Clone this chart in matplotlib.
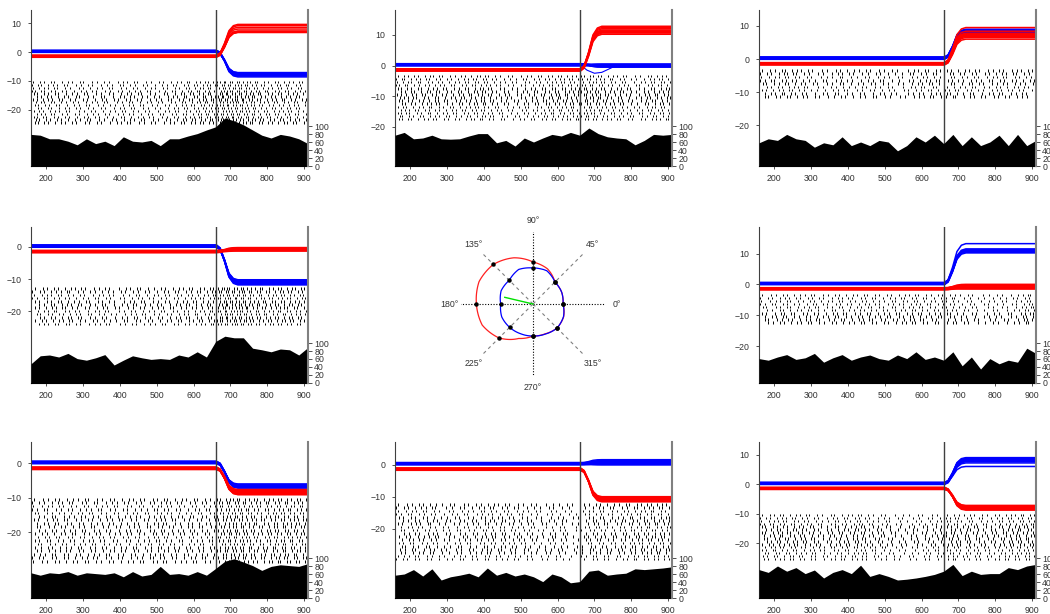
import numpy as np
import matplotlib
matplotlib.use("Agg")
import matplotlib.pyplot as plt

plt.rcParams['font.family'] = ['Liberation Sans', 'DejaVu Sans']
plt.rcParams['font.size'] = 6.3

# time bins of the PSTH (ms) and stimulus onset
psth_t = [160, 185, 210, 235, 260, 285, 310, 335, 360, 385, 410, 435, 460, 485, 510, 535,
          560, 585, 610, 635, 660, 685, 710, 735, 760, 785, 810, 835, 860, 885, 910]
onset = 660

# firing rate (spikes/s)
rate_p1 = [79, 77, 68, 68, 62, 53, 68, 56, 62, 51, 73, 62, 60, 64, 51, 68,
           68, 75, 81, 90, 98, 120, 113, 103, 90, 77, 70, 79, 75, 68, 56]
rate_p2 = [77, 84, 68, 70, 77, 68, 67, 68, 75, 81, 81, 58, 64, 50, 70, 60,
           70, 79, 75, 84, 77, 95, 81, 73, 70, 68, 53, 64, 79, 77, 79]
rate_p3 = [58, 68, 64, 79, 68, 64, 47, 58, 53, 73, 51, 60, 51, 64, 60, 38,
           51, 73, 60, 77, 56, 79, 51, 73, 51, 60, 77, 51, 79, 51, 64]
rate_p4 = [48, 68, 70, 65, 74, 61, 57, 63, 71, 45, 57, 68, 63, 59, 61, 59,
           70, 65, 78, 65, 104, 117, 113, 113, 87, 83, 78, 85, 83, 70, 89]
rate_p6 = [61, 57, 65, 71, 59, 63, 74, 52, 63, 71, 57, 65, 70, 61, 57, 70,
           61, 78, 59, 65, 57, 78, 43, 65, 35, 61, 48, 57, 52, 87, 74]
rate_p7 = [63, 57, 63, 61, 66, 57, 63, 61, 59, 63, 53, 66, 55, 59, 79, 59,
           61, 57, 66, 57, 74, 92, 98, 90, 81, 69, 79, 83, 81, 79, 86]
rate_p8 = [57, 60, 71, 55, 73, 45, 53, 57, 62, 53, 75, 57, 64, 55, 60, 53,
           41, 60, 53, 38, 41, 67, 70, 57, 60, 62, 73, 71, 73, 75, 78]
rate_p9 = [71, 64, 80, 67, 76, 61, 70, 50, 64, 71, 61, 82, 54, 61, 54, 45,
           47, 50, 54, 59, 67, 84, 56, 67, 59, 61, 61, 76, 71, 80, 84]

# relative inter-spike intervals used to lay out raster ticks
isi_pattern = [0.55, 1.45, 0.8, 1.25, 0.65, 1.35, 1.05, 0.75, 1.15]

# eye position: baseline spread and final level of each trial (deg)
jitter = [-0.5, -0.35, -0.2, -0.05, 0.1, 0.25, 0.4, -0.25, 0.15, 0.3]
blue_end_p1 = [-7.2, -7.5, -7.8, -8.0, -7.4, -8.6, -7.6, -7.1, -7.9, -8.3]
red_end_p1 = [6.8, 7.0, 7.2, 6.9, 7.3, 8.0, 8.6, 9.2, 9.6, 7.1]
blue_end_p2 = [0.5, 0.2, -0.3, 0.0, 0.4, -0.5, 0.1, -0.2, 0.3, -0.4]
red_end_p2 = [10.2, 10.6, 11.0, 11.3, 11.6, 12.0, 10.8, 12.4, 12.8, 11.2]
blue_end_p3 = [7.8, 8.2, 8.5, 9.0, 7.6, 8.0, 8.8, 8.3, 7.9, 8.6]
red_end_p3 = [6.0, 6.5, 7.0, 7.4, 7.8, 8.4, 9.5, 7.2, 6.8, 7.6]
blue_end_p4 = [-10.2, -10.6, -11.0, -11.4, -11.8, -10.8, -11.2, -10.4, -11.6, -11.0]
red_end_p4 = [-0.3, -0.6, -0.9, -1.1, -0.5, -0.2, -0.8, -1.3, -0.4, -0.7]
blue_end_p6 = [10.2, 10.5, 10.8, 11.2, 11.5, 10.4, 10.9, 11.0, 13.2, 10.6]
red_end_p6 = [-1.2, -1.0, -1.4, -0.9, -1.3, 0.0, -0.3, -1.1, -1.5, -0.6]
blue_end_p7 = [-6.0, -6.3, -6.6, -6.9, -7.2, -6.4, -6.8, -6.1, -7.0, -6.5]
red_end_p7 = [-7.6, -8.0, -8.4, -8.8, -9.1, -7.8, -8.2, -8.6, -9.0, -7.9]
blue_end_p8 = [0.0, 0.3, 0.6, 0.9, 1.2, 1.5, 0.4, 0.8, -0.1, 1.0]
red_end_p8 = [-10.0, -10.3, -10.6, -11.0, -11.4, -10.8, -11.2, -10.5, -11.6, -10.2]
blue_end_p9 = [7.2, 7.6, 8.0, 8.4, 8.8, 9.0, 6.0, 7.8, 8.2, 8.6]
red_end_p9 = [-7.2, -7.6, -8.0, -8.4, -8.8, -7.4, -7.9, -8.2, -8.6, -7.8]

# saccade profile (fraction of the way to the final level)
shape_t = [160, 662, 672, 684, 696, 708, 720, 910]
shape_f = [0, 0, 0.08, 0.4, 0.8, 0.96, 1.0, 1.0]

# one blue trial in panel 2 that dips and comes back
dip_t = [160, 662, 680, 700, 720, 750, 910]
dip_y = [0.2, 0.2, -1.5, -2.5, -2.2, -0.5, 0.0]

# direction tuning (polar panel)
dirs = [0, 22.5, 45, 67.5, 90, 112.5, 135, 157.5, 180, 202.5, 225, 247.5, 270, 292.5, 315, 337.5]
red_resp = [30, 31, 31, 38, 42, 50, 56, 58.4, 56.6, 55, 48, 37.3, 32, 32.2, 34, 33.2]
blue_resp = [30, 31, 31, 36, 36, 37.4, 33.5, 34.5, 32.3, 33.8, 33, 32.2, 32, 32.5, 34, 33]
pref_dir = 166.7
pref_len = 29
dir_labels = ['0°', '45°', '90°', '135°', '180°', '225°', '270°', '315°']

# panel: (rate, blue_end, red_end, ylim, raster top, raster rows, yticks)
panels = {
    (0, 0): (rate_p1, blue_end_p1, red_end_p1, (-39.5, 14.6), -10, 15, [-20, -10, 0, 10]),
    (0, 1): (rate_p2, blue_end_p2, red_end_p2, (-32.7, 18.1), -3, 15, [-20, -10, 0, 10]),
    (0, 2): (rate_p3, blue_end_p3, red_end_p3, (-32.3, 14.8), -3, 9, [-20, -10, 0, 10]),
    (1, 0): (rate_p4, blue_end_p4, red_end_p4, (-42.3, 6.2), -12.5, 12, [-20, -10, 0]),
    (1, 2): (rate_p6, blue_end_p6, red_end_p6, (-32.0, 18.6), -3, 10, [-20, -10, 0, 10]),
    (2, 0): (rate_p7, blue_end_p7, red_end_p7, (-39.1, 6.2), -10, 19, [-20, -10, 0]),
    (2, 1): (rate_p8, blue_end_p8, red_end_p8, (-41.5, 7.0), -12, 18, [-20, -10, 0]),
    (2, 2): (rate_p9, blue_end_p9, red_end_p9, (-38.6, 14.3), -10, 16, [-20, -10, 0, 10]),
}

W, H = 1050, 614
col_left = [31, 395, 759]
row_top = [10, 227, 442]
ax_w, ax_h = 277, 156

fig = plt.figure(figsize=(W / 100, H / 100), dpi=100)

tt = np.arange(160, 910, 1.0)
sf = np.array(shape_f)

for (r, c), (rate, bend, rend, ylim, rtop, nrows, yt) in panels.items():
    ax = fig.add_axes([col_left[c] / W, 1 - (row_top[r] + ax_h) / H, ax_w / W, ax_h / H])
    # eye traces
    for j, e in enumerate(bend):
        b = 0.3 + jitter[j] * 0.8
        ax.plot(shape_t, b + (e - b) * sf, color='#0000ff', lw=1.1)
    if (r, c) == (0, 1):
        ax.plot(dip_t, dip_y, color='#0000ff', lw=0.8)
    for j, e in enumerate(rend):
        b = -1.4 + jitter[j] * 0.8
        ax.plot(shape_t, b + (e - b) * sf, color='#ff0000', lw=1.1)

    # raster laid out along the cumulative rate
    rr = np.interp(tt, psth_t, rate)
    cum = np.cumsum(rr) / 1000.0
    for k in range(nrows):
        pat = np.tile(np.roll(isi_pattern, -2 * k), 12)
        thr = np.cumsum(pat) - ((k * 0.618034) % 1)
        thr = thr[(thr > 0) & (thr < cum[-1])]
        idx = np.searchsorted(cum, thr)
        y = rtop - k
        ax.vlines(tt[idx], y - 0.8, y, color='black', lw=0.7)

    ax.axvline(onset, color='#404040', lw=1)
    ax.set_xlim(160, 910)
    ax.set_ylim(*ylim)
    ax.set_xticks(range(200, 901, 100))
    ax.set_yticks(yt)
    ax.spines['top'].set_visible(False)
    ax.spines['right'].set_visible(False)
    ax.spines['left'].set_color('#404040')
    ax.tick_params(colors='#333333', length=2, width=0.6, labelsize=6.3)
    ax.tick_params(axis='y', pad=5)
    ax.tick_params(axis='x', pad=4)

    ax2 = ax.twinx()
    ax2.fill_between(psth_t, 0, rate, color='black', lw=0)
    ax2.set_ylim(0, 390)
    ax2.set_xlim(160, 910)
    ax2.set_yticks(range(0, 101, 20))
    for s in ['top', 'left', 'bottom']:
        ax2.spines[s].set_visible(False)
    ax2.spines['right'].set_color('#808080')
    ax2.spines['right'].set_linewidth(1.5)
    ax2.tick_params(axis='y', colors='#333333', length=3, width=0.6, pad=1.5, labelsize=6.3)

# polar tuning panel
R = 72
cx, cy = 533, 304
pax = fig.add_axes([(cx - R) / W, 1 - (cy + R) / H, 2 * R / W, 2 * R / H], projection='polar')
pax.set_axis_off()
pax.set_ylim(0, R)
for a in [0, 90, 180, 270]:
    pax.plot([np.deg2rad(a)] * 2, [0, 75], color='black', ls=(0, (1, 1.5)), lw=0.8)
for a in [45, 135, 225, 315]:
    pax.plot([np.deg2rad(a)] * 2, [0, 72], color='#808080', ls=(0, (3, 3)), lw=0.8)
for i, lab in enumerate(dir_labels):
    pax.text(np.deg2rad(45 * i), 84, lab, ha='center', va='center', color='#333333', clip_on=False)

th = np.deg2rad(dirs + [360])
for resp, col in [(red_resp, '#ff2020'), (blue_resp, '#0000ff')]:
    ln, = pax.plot(th, resp + resp[:1], color=col, lw=0.9)
    # let the polar transform bend each segment along the angle
    ln.get_path()._interpolation_steps = 24
pax.plot(th[:-1:2], red_resp[::2], 'o', color='black', ms=2.2)
pax.plot(th[:-1:2], blue_resp[::2], 'o', color='black', ms=2.2)
pax.plot([np.deg2rad(pref_dir)] * 2, [0, pref_len], color='#00e000', lw=1)

fig.savefig('out.png', dpi=100)
